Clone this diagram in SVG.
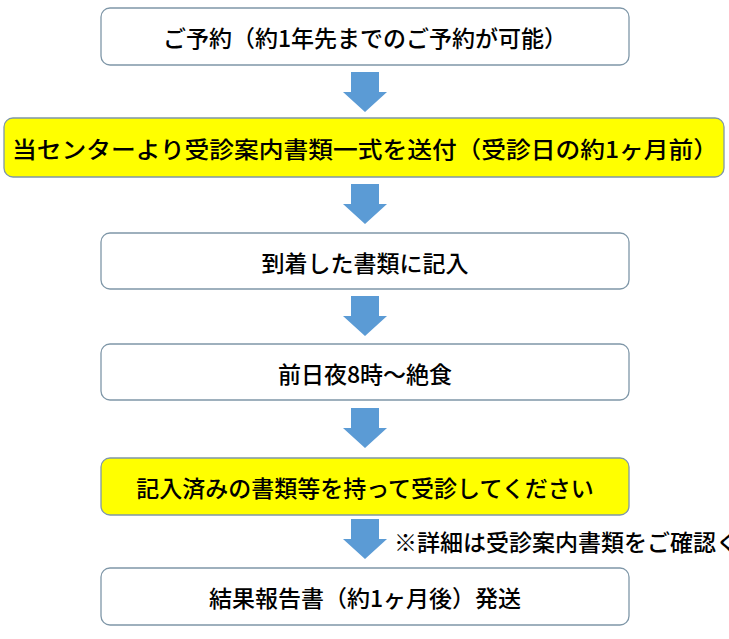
<svg xmlns="http://www.w3.org/2000/svg" width="729" height="639" viewBox="0 0 729 639">
<style>
.b{fill:#fff;stroke:#7f97a8;stroke-width:1.3}
.y{fill:#ffff00;stroke:#7f97a8;stroke-width:1.3}
text{font-family:"Noto Sans CJK JP",sans-serif;font-size:23px;font-weight:500;fill:#000;text-anchor:middle;dominant-baseline:central}
.a{fill:#5b9bd5}
</style>
<rect width="729" height="639" fill="#fff"/>
<g id="connectors">
<path class="a" d="M351 72h28v20h8l-22 20l-22-20h8z"/>
<path class="a" d="M351 184h28v20h8l-22 20l-22-20h8z"/>
<path class="a" d="M351 296h28v20h8l-22 20l-22-20h8z"/>
<path class="a" d="M351 408h28v20h8l-22 20l-22-20h8z"/>
<path class="a" d="M351 519h28v20h8l-22 20l-22-20h8z"/>
</g>
<g id="n1"><rect class="b" x="101" y="8" width="528" height="57" rx="9"/><text x="365" y="37">ご予約（約1年先までのご予約が可能）</text></g>
<g id="n2"><rect class="y" x="4" y="118" width="720" height="59" rx="9"/><text x="365" y="148" textLength="706" lengthAdjust="spacingAndGlyphs">当センターより受診案内書類一式を送付（受診日の約1ヶ月前）</text></g>
<g id="n3"><rect class="b" x="101" y="233" width="528" height="56" rx="9"/><text x="365" y="262">到着した書類に記入</text></g>
<g id="n4"><rect class="b" x="101" y="344" width="528" height="56" rx="9"/><text x="365" y="373">前日夜8時～絶食</text></g>
<g id="n5"><rect class="y" x="101" y="458" width="528" height="57" rx="9"/><text x="365" y="487">記入済みの書類等を持って受診してください</text></g>
<text x="394" y="541" font-size="16" style="text-anchor:start">※詳細は受診案内書類をご確認ください</text>
<g id="n6"><rect class="b" x="101" y="568" width="528" height="57" rx="9"/><text x="365" y="597">結果報告書（約1ヶ月後）発送</text></g>
</svg>
